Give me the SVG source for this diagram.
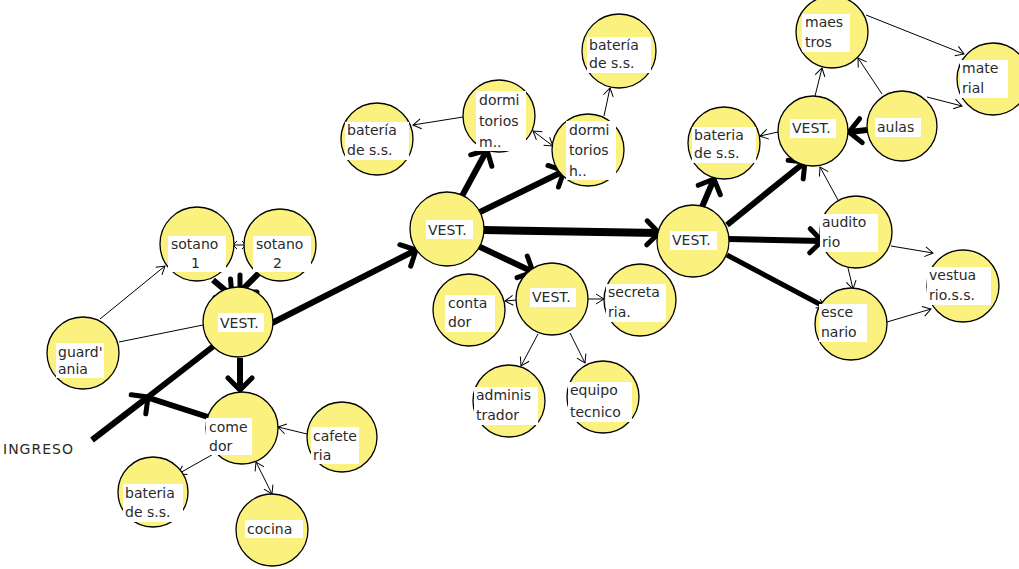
<svg xmlns="http://www.w3.org/2000/svg" width="1019" height="569" viewBox="0 0 1019 569">
<style>
.n{fill:#FBF17E;stroke:#000;stroke-width:1.3}
.bg{fill:#fff}
text{font-family:"DejaVu Sans","Liberation Sans",sans-serif;font-size:14px;fill:#2a2a2a}
.thick{fill:none;stroke:#000;stroke-width:6}
.thin{fill:none;stroke:#000;stroke-width:1}
</style>
<defs>
<marker id="ah" markerUnits="userSpaceOnUse" markerWidth="30" markerHeight="30" viewBox="0 0 30 30" refX="16" refY="15" orient="auto">
<path d="M4,3 L16,15 L4,27" fill="none" stroke="#000" stroke-width="5" stroke-linecap="round" stroke-linejoin="round"/>
</marker>
<marker id="at" markerUnits="userSpaceOnUse" markerWidth="14" markerHeight="14" viewBox="0 0 14 14" refX="10" refY="7" orient="auto-start-reverse">
<path d="M2,2 L10,7 L2,12" fill="none" stroke="#000" stroke-width="1"/>
</marker>
<marker id="as" markerUnits="userSpaceOnUse" markerWidth="8" markerHeight="10" viewBox="0 0 8 10" refX="6" refY="5" orient="auto-start-reverse">
<path d="M2,1 L6,5 L2,9" fill="none" stroke="#000" stroke-width="1"/>
</marker>
</defs>
<rect width="1019" height="569" fill="#fff"/>
<g id="connectors">
<path class="thick" d="M213,280 L232,296" marker-end="url(#ah)"/>
<path class="thick" d="M260,272 L240,292" marker-end="url(#ah)"/>
<path class="thick" d="M272,323 L416,250" marker-end="url(#ah)"/>
<path class="thick" d="M92,440 L148,397" marker-end="url(#ah)"/>
<path class="thick" d="M148,397 L215,345"/>
<path class="thick" d="M208,417 L146,397"/>
<path class="thick" d="M240,358 L240,390" marker-end="url(#ah)"/>
<path class="thick" d="M462,196 L487,150" marker-end="url(#ah)"/>
<path class="thick" d="M480,212 L564,171" marker-end="url(#ah)"/>
<path class="thick" d="M484,230 L659,233" style="stroke-width:8" marker-end="url(#ah)"/>
<path class="thick" d="M478,246 L533,272" marker-end="url(#ah)"/>
<path class="thick" d="M702,207 L714,179" marker-end="url(#ah)"/>
<path class="thick" d="M727,225 L805,162" marker-end="url(#ah)"/>
<path class="thick" d="M729,239 L822,241" marker-end="url(#ah)"/>
<path class="thick" d="M727,255 L825,307" style="stroke-width:5"/>
<path class="thin" d="M815,302 L825,307" marker-end="url(#at)"/>
<path class="thick" d="M867,130 L849,132" marker-end="url(#ah)"/>
<path class="thin" d="M100,319 L165,266" marker-end="url(#at)"/>
<path class="thin" d="M119,342 L203,325"/>
<path class="thin" d="M233,245 L246,245" marker-start="url(#as)" marker-end="url(#as)"/>
<path class="thin" d="M307,434 L278,427" marker-end="url(#at)"/>
<path class="thin" d="M217,452 L178,474" marker-end="url(#at)"/>
<path class="thin" d="M256,462 L272,494" marker-start="url(#at)" marker-end="url(#at)"/>
<path class="thin" d="M463,117 L413,125" marker-end="url(#at)"/>
<path class="thin" d="M533,131 L553,146" marker-start="url(#at)" marker-end="url(#at)"/>
<path class="thin" d="M604,116 L610,88" marker-end="url(#at)"/>
<path class="thin" d="M517,300 L505,301" marker-end="url(#at)"/>
<path class="thin" d="M588,299 L604,299" marker-end="url(#at)"/>
<path class="thin" d="M538,334 L521,366" marker-end="url(#at)"/>
<path class="thin" d="M570,333 L585,363" marker-end="url(#at)"/>
<path class="thin" d="M778,132 L760,136" marker-end="url(#at)"/>
<path class="thin" d="M815,96 L822,68" marker-end="url(#at)"/>
<path class="thin" d="M882,94 L858,58" marker-end="url(#at)"/>
<path class="thin" d="M927,97 L962,106" marker-end="url(#at)"/>
<path class="thin" d="M866,15 L964,54" marker-end="url(#at)"/>
<path class="thin" d="M838,200 L820,167" marker-end="url(#at)"/>
<path class="thin" d="M848,268 L853,289" marker-end="url(#at)"/>
<path class="thin" d="M891,246 L933,253" marker-end="url(#at)"/>
<path class="thin" d="M887,322 L931,309" marker-end="url(#at)"/>
</g>
<g id="ingreso"><text x="3" y="454" style="font-size:14px;letter-spacing:1px">INGRESO</text></g>
<g id="sotano1"><circle class="n" cx="197" cy="244" r="37"/><rect class="bg" x="168" y="236" width="58" height="36"/><text x="171" y="249">sotano</text><text x="191" y="268">1</text></g>
<g id="sotano2"><circle class="n" cx="280" cy="245" r="36"/><rect class="bg" x="253" y="236" width="58" height="36"/><text x="256" y="249">sotano</text><text x="273" y="268">2</text></g>
<g id="vest1"><circle class="n" cx="238" cy="322" r="35"/><rect class="bg" x="218" y="313" width="46" height="19"/><text x="220" y="328">VEST.</text></g>
<g id="guardania"><circle class="n" cx="83" cy="353" r="36"/><rect class="bg" x="56" y="343" width="48" height="35"/><text x="58" y="357">guard'</text><text x="58" y="374">ania</text></g>
<g id="comedor1"><circle class="n" cx="242" cy="428" r="36"/><rect class="bg" x="206" y="418" width="46" height="37"/><text x="209" y="432">come</text><text x="209" y="451">dor</text></g>
<g id="cafeteria"><circle class="n" cx="342" cy="437" r="35"/><rect class="bg" x="311" y="427" width="48" height="37"/><text x="313" y="441">cafete</text><text x="313" y="460">ria</text></g>
<g id="bateria1"><circle class="n" cx="153" cy="492" r="35"/><rect class="bg" x="123" y="484" width="60" height="38"/><text x="125" y="498">bateria</text><text x="125" y="517">de s.s.</text></g>
<g id="cocina"><circle class="n" cx="272" cy="530" r="36"/><rect class="bg" x="245" y="520" width="58" height="18"/><text x="247" y="534">cocina</text></g>
<g id="vest2"><circle class="n" cx="447" cy="229" r="37"/><rect class="bg" x="426" y="220" width="47" height="19"/><text x="428" y="235">VEST.</text></g>
<g id="bateria2"><circle class="n" cx="377" cy="139" r="36"/><rect class="bg" x="345" y="122" width="64" height="38"/><text x="347" y="135">batería</text><text x="347" y="155">de s.s.</text></g>
<g id="dormm"><circle class="n" cx="499" cy="116" r="36"/><rect class="bg" x="476" y="91" width="50" height="60"/><text x="479" y="105">dormi</text><text x="479" y="126">torios</text><text x="479" y="147">m..</text></g>
<g id="dormh"><circle class="n" cx="588" cy="150" r="36"/><rect class="bg" x="566" y="121" width="50" height="59"/><text x="569" y="135">dormi</text><text x="569" y="155">torios</text><text x="569" y="176">h..</text></g>
<g id="bateria3"><circle class="n" cx="619" cy="51" r="37"/><rect class="bg" x="587" y="37" width="64" height="36"/><text x="589" y="50">batería</text><text x="589" y="68">de s.s.</text></g>
<g id="vest3"><circle class="n" cx="552" cy="299" r="36"/><rect class="bg" x="530" y="288" width="46" height="19"/><text x="532" y="302">VEST.</text></g>
<g id="contador"><circle class="n" cx="469" cy="310" r="36"/><rect class="bg" x="445" y="295" width="50" height="37"/><text x="448" y="308">conta</text><text x="448" y="327">dor</text></g>
<g id="secretaria"><circle class="n" cx="640" cy="300" r="36"/><rect class="bg" x="606" y="284" width="60" height="38"/><text x="608" y="297">secreta</text><text x="608" y="317">ria.</text></g>
<g id="admin"><circle class="n" cx="509" cy="401" r="36"/><rect class="bg" x="474" y="387" width="64" height="38"/><text x="476" y="400">adminis</text><text x="476" y="420">trador</text></g>
<g id="equipo"><circle class="n" cx="603" cy="397" r="36"/><rect class="bg" x="568" y="382" width="64" height="40"/><text x="570" y="395">equipo</text><text x="570" y="417">tecnico</text></g>
<g id="vest4"><circle class="n" cx="693" cy="241" r="36"/><rect class="bg" x="670" y="231" width="47" height="19"/><text x="672" y="245">VEST.</text></g>
<g id="bateria4"><circle class="n" cx="724" cy="143" r="36"/><rect class="bg" x="692" y="127" width="64" height="36"/><text x="694" y="140">bateria</text><text x="694" y="158">de s.s.</text></g>
<g id="vest5"><circle class="n" cx="813" cy="131" r="35"/><rect class="bg" x="790" y="119" width="46" height="19"/><text x="792" y="133">VEST.</text></g>
<g id="maestros"><circle class="n" cx="832" cy="32" r="36"/><rect class="bg" x="802" y="14" width="48" height="38"/><text x="805" y="27">maes</text><text x="805" y="47">tros</text></g>
<g id="material"><circle class="n" cx="993" cy="79" r="36"/><rect class="bg" x="960" y="60" width="48" height="38"/><text x="962" y="73">mate</text><text x="962" y="93">rial</text></g>
<g id="aulas"><circle class="n" cx="902" cy="126" r="35"/><rect class="bg" x="875" y="118" width="46" height="19"/><text x="877" y="132">aulas</text></g>
<g id="auditorio"><circle class="n" cx="856" cy="232" r="36"/><rect class="bg" x="820" y="214" width="58" height="38"/><text x="822" y="227">audito</text><text x="822" y="247">rio</text></g>
<g id="escenario"><circle class="n" cx="851" cy="324" r="36"/><rect class="bg" x="819" y="304" width="48" height="38"/><text x="821" y="317">esce</text><text x="821" y="337">nario</text></g>
<g id="vestuario"><circle class="n" cx="963" cy="286" r="36"/><rect class="bg" x="927" y="267" width="64" height="38"/><text x="929" y="280">vestua</text><text x="929" y="300">rio.s.s.</text></g>
</svg>
